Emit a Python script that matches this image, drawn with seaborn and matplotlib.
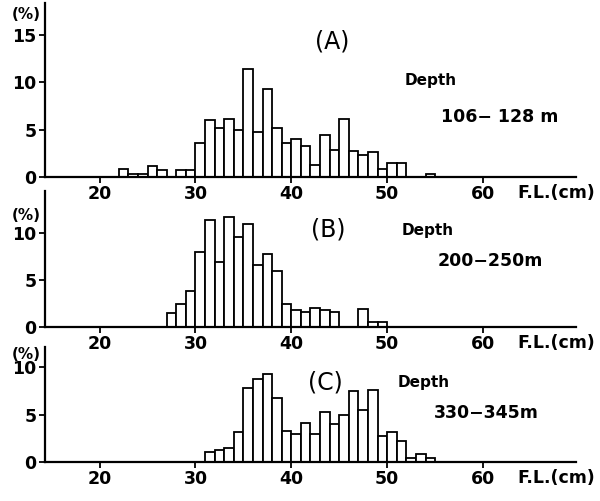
import matplotlib
matplotlib.use("Agg")
import matplotlib.pyplot as plt
import seaborn as sns
import pandas as pd

# Длина (F.L., см) — левая граница класса, и доля в процентах
fl_a = list(range(22, 55))
pct_a = [0.8, 0.3, 0.3, 1.2, 0.7, 0.0, 0.7, 0.7, 3.6, 6.0, 5.2, 6.1, 5.0,
         11.4, 4.8, 9.3, 5.2, 3.6, 4.0, 3.3, 1.3, 4.4, 2.8, 6.1, 2.7, 2.3,
         2.6, 0.8, 1.5, 1.5, 0.0, 0.0, 0.3]

fl_b = list(range(27, 50))
pct_b = [1.5, 2.5, 3.8, 8.0, 11.4, 6.9, 11.7, 9.6, 10.9, 6.6, 7.8, 6.0,
         2.5, 1.8, 1.6, 2.0, 1.8, 1.6, 0.0, 0.0, 1.9, 0.5, 0.5]

fl_c = list(range(31, 55))
pct_c = [1.0, 1.3, 1.5, 3.2, 7.8, 8.8, 9.3, 6.8, 3.3, 3.0, 4.1, 3.0, 5.3,
         4.0, 5.0, 7.5, 5.5, 7.6, 2.7, 3.2, 2.2, 0.4, 0.8, 0.4]

xticks = [20, 30, 40, 50, 60]

panels = [
    # fl, pct, label, depth, axes rect, ylim top, yticks, text positions
    (fl_a, pct_a, "(A)", "106\u2212 128 m", [0.075, 0.647, 0.885, 0.347], 18.4, [0, 5, 10, 15],
     (44.3, 14.3), (51.8, 10.2), (55.6, 6.3), 17.2),
    (fl_b, pct_b, "(B)", "200\u2212250m", [0.075, 0.347, 0.885, 0.271], 14.4, [0, 5, 10],
     (43.8, 10.4), (51.5, 10.3), (55.3, 7.0), 11.8),
    (fl_c, pct_c, "(C)", "330\u2212345m", [0.075, 0.078, 0.885, 0.230], 12.2, [0, 5, 10],
     (43.5, 8.4), (51.1, 8.4), (54.9, 5.2), 11.4),
]

sns.set_style("ticks", {"axes.edgecolor": "black", "text.color": "black",
                        "xtick.color": "black", "ytick.color": "black"})
plt.rcParams["font.family"] = ["DejaVu Sans"]

fig = plt.figure(figsize=(6, 5.01), dpi=100)

for fl, pct, label, depth, rect, ytop, yticks, pos_lab, pos_depth, pos_range, ypct in panels:
    ax = fig.add_axes(rect)
    ax.set_facecolor("none")
    df = pd.DataFrame({"fl": [f + 0.5 for f in fl], "pct": pct})
    sns.histplot(data=df, x="fl", weights="pct", binwidth=1,
                 binrange=(fl[0], fl[-1] + 1), ax=ax, color="white",
                 edgecolor="black", linewidth=1.3, alpha=1)
    ax.set_xlim(14.3, 69.7)
    ax.set_ylim(0, ytop)
    ax.set_xticks(xticks)
    ax.set_yticks(yticks)
    ax.set_xlabel("")
    ax.set_ylabel("")
    sns.despine(ax=ax)
    for s in ["left", "bottom"]:
        ax.spines[s].set_linewidth(1.6)
    ax.tick_params(direction="out", length=4, width=1.3, labelsize=12.5, pad=2)
    for t in ax.get_xticklabels() + ax.get_yticklabels():
        t.set_fontweight("bold")
    ax.text(pos_lab[0], pos_lab[1], label, ha="center", va="center", fontsize=17)
    ax.text(pos_depth[0], pos_depth[1], "Depth", ha="left", va="center",
            fontsize=11, fontweight="bold")
    ax.text(pos_range[0], pos_range[1], depth, ha="left", va="center",
            fontsize=12.5, fontweight="bold")
    ax.annotate("(%)", xy=(0, ypct), xycoords=("axes fraction", "data"),
                xytext=(-3, 0), textcoords="offset points", ha="right",
                va="center", fontsize=11, fontweight="bold")
    ax.annotate("F.L.(cm)", xy=(1, 0), xycoords="axes fraction",
                xytext=(14, -5), textcoords="offset points", ha="right",
                va="top", fontsize=12.5, fontweight="bold", zorder=5)

fig.savefig("out.png", dpi=100)
